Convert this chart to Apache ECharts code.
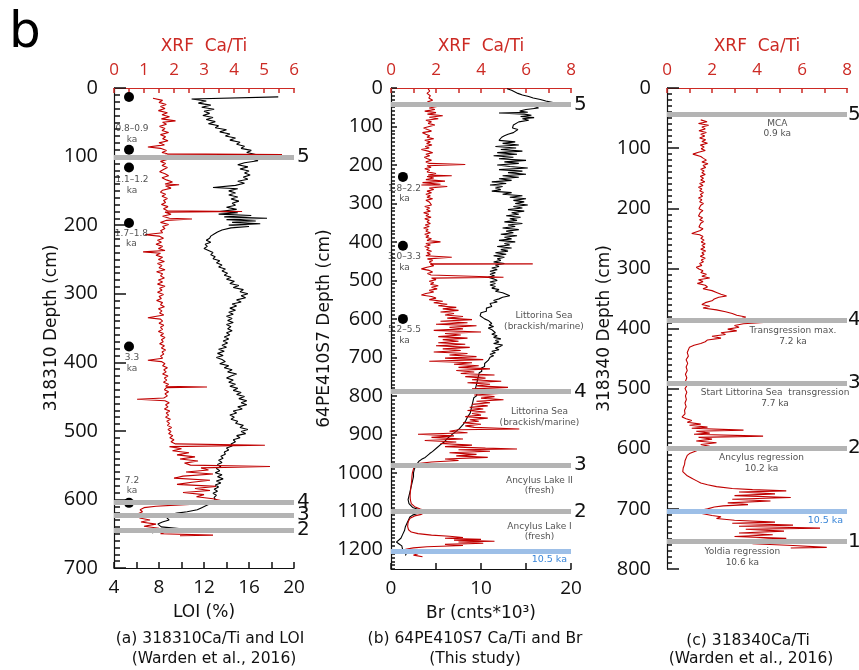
<!DOCTYPE html>
<html>
<head>
<meta charset="utf-8">
<script src="https://cdn.jsdelivr.net/npm/echarts@6/dist/echarts.min.js"></script>
<style>
  html, body { margin: 0; padding: 0; background: #fff; }
  #chart { width: 859px; height: 670px; }
</style>
</head>
<body>
<div id="chart"></div>
<script>
// core 318310: [depth cm, Ca/Ti]
const caTiA = [[15,1.30],[18,1.62],[21,1.50],[24,1.74],[27,1.55],[30,1.70],[33,1.48],[36,1.78],[39,1.60],[42,1.85],[45,1.58],[48,2.05],[50,1.62],[53,1.75],[56,1.52],[59,1.70],[62,1.60],[65,1.82],[68,1.55],[71,1.72],[74,1.62],[77,1.80],[80,1.50],[83,1.68],[86,1.13],[88,1.55],[91,1.75],[94,1.60],[96,1.78],[97,5.60],[98,1.72],[101,1.62],[104,1.80],[107,1.55],[110,1.72],[113,1.60],[116,1.78],[119,1.65],[122,1.52],[125,1.70],[128,1.82],[131,1.60],[134,1.75],[137,1.95],[140,1.70],[141,2.17],[143,1.72],[146,1.90],[149,1.62],[152,1.55],[155,1.72],[158,1.60],[161,1.78],[164,1.65],[167,1.72],[170,1.58],[173,1.80],[176,1.65],[179,1.78],[180,4.27],[181,1.70],[184,1.90],[187,1.62],[190,1.85],[191,2.60],[193,1.75],[196,1.55],[199,1.82],[202,1.62],[205,1.70],[208,1.55],[211,1.62],[214,1.03],[216,1.50],[219,1.65],[222,1.45],[225,1.58],[228,1.40],[231,1.62],[234,1.48],[237,1.70],[239,0.97],[241,1.55],[244,1.40],[247,1.62],[250,1.48],[253,1.68],[256,1.45],[259,1.60],[262,1.50],[265,1.70],[268,1.42],[271,1.62],[274,1.55],[277,1.68],[280,1.48],[283,1.62],[286,1.45],[289,1.70],[292,1.52],[295,1.60],[298,1.45],[301,1.65],[304,1.50],[307,1.58],[310,1.42],[313,1.62],[316,1.55],[319,1.68],[322,1.48],[325,1.60],[328,1.52],[331,1.66],[335,1.13],[337,1.55],[340,1.62],[343,1.50],[346,1.66],[349,1.55],[352,1.62],[355,1.48],[358,1.65],[361,1.55],[364,1.70],[367,1.58],[370,1.64],[373,1.52],[376,1.68],[379,1.58],[382,1.72],[385,1.60],[388,1.66],[391,1.55],[394,1.62],[397,1.13],[399,1.58],[402,1.70],[405,1.62],[408,1.78],[411,1.66],[414,1.74],[417,1.62],[420,1.80],[423,1.68],[426,1.76],[429,1.65],[432,1.82],[435,1.72],[436,3.10],[437,1.75],[440,1.68],[443,1.82],[446,1.70],[449,1.78],[452,1.66],[454,0.77],[456,1.70],[459,1.84],[462,1.72],[465,1.80],[468,1.68],[471,1.86],[474,1.74],[477,1.82],[480,1.72],[483,1.88],[486,1.76],[489,1.85],[492,1.78],[495,1.92],[498,1.80],[501,1.90],[504,1.82],[507,1.96],[510,1.86],[513,2.00],[516,1.90],[519,2.05],[521,5.03],[523,1.85],[526,2.25],[529,1.95],[532,2.50],[535,2.10],[538,2.70],[541,2.20],[544,2.80],[547,2.35],[550,2.55],[552,5.20],[554,2.90],[557,3.15],[560,2.40],[563,3.30],[566,2.30],[569,2.00],[572,3.20],[575,2.60],[578,2.10],[581,3.40],[584,2.70],[587,3.20],[590,2.30],[593,3.00],[596,2.75],[599,3.30],[602,3.60],[604,5.10],[606,3.20],[608,2.20],[610,1.40],[612,1.00],[615,0.87],[618,0.95],[621,0.80],[624,1.05],[627,0.85],[630,1.20],[633,0.90],[636,1.40],[639,1.00],[642,1.50],[645,1.20],[648,1.70],[650,1.55],[652,3.30],[653,2.20]];

// core 318310: [depth cm, LOI %]
const loiA = [[13,18.6],[16,10.9],[19,12.2],[22,11.5],[25,12.6],[28,11.8],[31,12.9],[34,12.0],[37,12.5],[40,11.9],[43,12.8],[46,12.2],[49,13.0],[52,12.4],[55,13.3],[58,13.0],[61,14.0],[64,13.4],[67,14.3],[70,13.9],[73,14.8],[76,14.3],[79,15.2],[82,14.9],[85,15.6],[88,15.3],[91,16.2],[94,15.8],[97,16.6],[99,16.0],[101,17.4],[103,16.2],[106,16.8],[109,15.6],[112,15.0],[115,15.9],[118,15.2],[121,16.0],[124,15.6],[127,16.1],[130,15.5],[133,15.9],[136,15.0],[139,15.6],[142,14.8],[145,12.8],[147,15.0],[150,14.2],[153,14.8],[156,14.2],[159,15.0],[162,14.4],[165,15.1],[168,14.5],[171,14.8],[174,14.0],[177,14.9],[180,13.4],[182,15.0],[184,13.3],[186,16.2],[188,13.8],[190,17.6],[192,14.0],[194,16.6],[196,14.5],[198,17.0],[200,14.2],[202,16.0],[204,14.4],[207,13.6],[210,13.2],[213,12.9],[216,12.6],[219,12.5],[222,12.2],[225,12.6],[228,12.1],[231,12.3],[234,12.0],[237,12.4],[240,12.8],[243,12.6],[246,13.0],[249,12.8],[252,13.4],[255,13.1],[258,13.6],[261,13.3],[264,13.9],[267,13.6],[270,14.1],[273,13.8],[276,14.4],[279,14.0],[282,14.7],[285,14.3],[288,15.1],[291,14.6],[294,15.5],[297,15.2],[300,15.9],[303,15.3],[306,15.7],[309,14.9],[312,15.3],[315,14.5],[318,14.9],[321,14.3],[324,14.8],[327,14.2],[330,14.6],[333,14.0],[336,14.5],[339,14.1],[342,14.6],[345,14.0],[348,14.4],[351,14.1],[354,14.5],[357,14.0],[360,14.3],[363,13.8],[366,14.2],[369,13.7],[372,14.1],[375,13.6],[378,14.0],[381,13.3],[384,13.8],[387,13.2],[390,13.7],[393,13.1],[396,13.6],[399,13.9],[402,13.4],[405,14.2],[408,13.8],[411,14.5],[414,14.1],[417,14.9],[420,14.4],[423,14.0],[426,14.6],[429,14.2],[432,14.8],[435,14.3],[438,15.0],[441,14.6],[444,15.3],[447,14.9],[450,15.6],[453,15.1],[456,15.8],[459,15.3],[462,15.8],[465,15.0],[468,15.4],[471,14.6],[474,14.9],[477,14.3],[480,14.7],[483,14.4],[486,15.0],[489,14.8],[492,15.5],[495,15.2],[498,15.9],[501,15.3],[504,15.7],[507,14.9],[510,15.2],[513,14.6],[516,14.8],[519,14.4],[522,14.5],[525,14.0],[528,14.2],[531,13.8],[534,13.9],[537,13.5],[540,13.7],[543,13.3],[546,13.6],[549,13.2],[552,13.5],[555,13.1],[558,13.4],[561,13.0],[564,13.6],[567,13.2],[570,13.7],[573,13.1],[576,13.5],[579,13.0],[582,13.3],[585,12.9],[588,13.2],[591,12.8],[594,13.1],[597,12.9],[600,13.0],[603,12.8],[606,12.6],[609,12.2],[612,11.8],[615,11.4],[618,10.5],[620,9.6],[622,9.0],[624,8.9],[627,8.7],[630,8.9],[633,8.3],[636,7.9],[640,8.2],[643,10.0],[645,20.0],[647,7.6],[649,7.4]];

// core 64PE410S7: [depth cm, Ca/Ti]
const caTiB = [[2,1.65],[8,1.72],[14,1.60],[20,1.75],[26,1.68],[32,1.85],[36,1.62],[40,1.90],[44,1.55],[48,2.05],[52,1.70],[56,1.95],[60,1.50],[64,2.00],[68,1.62],[72,2.30],[76,1.70],[80,2.10],[84,1.55],[88,1.80],[92,1.65],[96,1.95],[100,1.70],[104,1.45],[108,1.62],[112,1.80],[116,1.40],[120,1.55],[124,1.72],[128,1.60],[132,1.90],[136,1.50],[140,1.75],[144,1.58],[148,1.82],[152,1.52],[156,1.70],[160,1.35],[164,1.65],[168,1.85],[172,1.55],[176,1.72],[180,1.48],[184,1.62],[188,1.80],[192,1.55],[196,1.70],[199,3.30],[202,1.60],[206,1.78],[210,1.50],[214,1.72],[218,1.60],[222,2.00],[226,1.65],[228,2.70],[230,1.60],[234,1.90],[238,1.55],[242,2.40],[246,1.40],[250,2.20],[252,1.35],[256,2.50],[260,1.70],[264,1.90],[268,1.60],[272,1.80],[276,1.55],[280,1.75],[284,1.60],[288,1.85],[292,1.55],[296,1.70],[300,1.62],[304,1.80],[308,1.50],[312,1.72],[316,1.58],[320,1.75],[324,1.45],[328,1.68],[332,1.55],[336,1.78],[340,1.50],[344,1.70],[348,1.60],[352,1.75],[356,1.52],[360,1.70],[364,1.45],[368,1.65],[372,1.55],[376,1.75],[380,1.50],[384,1.68],[388,1.55],[392,1.80],[396,1.60],[400,2.20],[404,1.55],[408,1.75],[412,1.50],[416,1.70],[420,1.58],[424,1.80],[428,1.60],[432,1.75],[436,1.55],[440,2.70],[444,1.62],[448,1.85],[452,1.70],[456,1.80],[457,6.30],[458,1.75],[462,1.90],[466,1.60],[470,1.35],[474,1.70],[478,1.85],[482,1.62],[486,1.78],[490,1.70],[492,5.00],[494,1.80],[498,2.00],[502,1.70],[506,1.90],[510,1.75],[514,2.10],[518,1.80],[522,2.05],[526,1.70],[530,1.90],[534,1.55],[538,1.35],[542,1.80],[546,2.00],[550,1.70],[554,2.30],[558,1.90],[562,2.50],[566,2.10],[570,2.90],[574,2.30],[578,3.00],[582,2.20],[586,2.80],[590,2.40],[594,3.20],[598,2.50],[602,3.60],[606,2.20],[610,3.40],[614,2.00],[618,3.80],[622,2.60],[626,3.20],[630,1.90],[634,4.00],[638,2.40],[642,3.10],[646,2.10],[650,3.40],[654,2.30],[658,3.00],[662,2.10],[666,3.30],[670,2.00],[674,3.50],[678,2.30],[682,3.10],[686,1.90],[690,3.40],[694,2.60],[698,3.80],[702,2.40],[706,4.10],[710,1.70],[714,3.60],[718,2.80],[722,3.90],[726,3.00],[730,4.40],[734,2.90],[738,3.70],[742,3.10],[746,4.60],[750,3.30],[754,4.20],[758,3.60],[762,4.90],[766,3.40],[770,4.40],[774,3.80],[778,5.20],[782,3.60],[786,4.50],[790,3.90],[794,4.80],[798,3.70],[802,4.60],[806,4.00],[810,5.00],[814,3.80],[818,4.40],[822,3.60],[826,4.30],[830,3.50],[834,4.10],[838,3.40],[842,4.20],[846,3.60],[850,4.00],[854,3.30],[858,4.30],[862,3.50],[866,3.90],[870,3.20],[874,4.00],[878,3.30],[882,3.70],[886,5.70],[888,3.00],[892,2.60],[896,3.40],[900,1.20],[904,2.80],[908,1.80],[912,3.20],[916,1.50],[920,2.90],[924,2.20],[928,3.60],[932,2.40],[936,4.20],[938,5.60],[940,3.00],[944,4.40],[948,2.60],[952,3.80],[956,2.90],[960,4.30],[964,2.40],[968,3.00],[972,1.80],[976,1.20],[980,1.05],[990,1.00],[1000,0.95],[1010,0.93],[1020,0.92],[1030,0.90],[1040,0.88],[1050,0.86],[1060,0.85],[1070,0.86],[1080,0.90],[1088,1.05],[1094,1.30],[1100,1.60],[1104,1.65],[1108,1.35],[1112,1.05],[1118,0.85],[1125,0.78],[1132,0.75],[1140,0.74],[1148,0.78],[1154,0.90],[1158,1.20],[1162,1.80],[1165,2.60],[1168,3.20],[1170,2.40],[1173,4.00],[1175,2.80],[1178,4.60],[1180,3.00],[1183,4.10],[1186,2.40],[1189,3.20],[1192,1.60],[1195,1.00],[1198,0.70],[1202,0.45],[1206,0.70],[1210,1.20],[1214,1.00],[1218,1.40]];

// core 64PE410S7: [depth cm, Br cnts*10^3]
const brB = [[2,12.9],[6,13.4],[10,13.2],[14,14.1],[18,14.6],[22,15.3],[26,15.8],[30,16.6],[34,17.2],[38,18.0],[42,16.8],[45,17.3],[48,15.9],[52,16.4],[56,15.0],[60,14.3],[63,15.2],[65,12.0],[68,14.8],[71,15.6],[74,14.4],[77,15.9],[80,14.6],[84,15.3],[88,14.2],[92,14.0],[96,13.6],[100,13.8],[104,13.5],[108,14.1],[112,14.0],[116,13.6],[120,13.0],[124,12.6],[128,12.3],[132,12.5],[136,12.0],[140,13.8],[144,12.4],[148,14.2],[152,11.6],[156,13.9],[160,12.2],[164,14.6],[168,11.8],[172,14.0],[176,11.4],[180,13.6],[184,12.0],[188,15.0],[192,12.6],[196,14.2],[200,11.8],[204,13.2],[208,15.2],[212,12.0],[216,14.6],[220,13.0],[224,15.0],[228,12.4],[232,14.2],[236,12.0],[240,13.4],[244,11.2],[248,12.8],[252,11.0],[256,12.4],[260,11.6],[264,12.2],[268,11.2],[272,13.4],[276,12.4],[280,14.6],[284,13.2],[288,15.0],[292,13.6],[296,14.8],[300,13.8],[304,15.2],[308,13.6],[312,14.6],[316,13.0],[320,14.8],[324,13.4],[328,14.2],[332,12.8],[336,14.4],[340,13.2],[344,14.0],[348,12.6],[352,14.6],[356,13.0],[360,13.8],[364,12.4],[368,14.2],[372,12.8],[376,13.6],[380,12.2],[384,14.0],[388,12.6],[392,13.4],[396,12.0],[400,13.8],[404,12.6],[408,13.2],[412,11.8],[416,13.4],[420,12.2],[424,13.0],[428,11.6],[432,12.8],[436,11.4],[440,12.6],[444,11.8],[448,12.2],[452,11.4],[456,12.6],[460,11.6],[464,12.0],[468,11.2],[472,11.8],[476,11.0],[480,11.6],[484,11.0],[488,11.5],[492,10.8],[496,11.4],[500,11.8],[504,11.0],[508,11.6],[512,11.0],[516,11.6],[520,11.2],[524,12.0],[528,11.6],[532,12.4],[536,12.8],[540,13.2],[544,12.4],[548,12.0],[552,11.4],[556,11.8],[560,11.0],[564,10.8],[568,11.2],[572,10.6],[576,10.4],[580,10.6],[584,10.0],[588,10.2],[592,9.9],[596,10.1],[600,10.4],[604,10.8],[608,10.6],[612,11.2],[616,10.9],[620,11.4],[624,10.8],[628,11.2],[632,11.0],[636,11.6],[640,11.2],[644,11.8],[648,11.4],[652,12.2],[656,11.6],[660,12.0],[664,11.4],[668,12.4],[672,12.1],[676,11.6],[680,12.0],[684,11.2],[688,11.6],[692,11.0],[696,11.4],[700,11.0],[704,11.2],[708,10.8],[712,10.7],[716,10.4],[720,10.2],[724,10.4],[728,10.0],[732,9.9],[736,10.1],[740,9.8],[745,10.0],[750,9.7],[755,9.9],[760,9.6],[765,9.8],[770,9.5],[775,9.7],[780,9.4],[785,9.6],[790,9.6],[795,9.4],[800,9.5],[805,9.2],[810,9.4],[815,9.1],[820,9.2],[825,9.0],[830,9.0],[835,8.9],[840,8.8],[845,8.8],[850,8.6],[855,8.5],[860,8.4],[865,8.3],[870,8.1],[875,8.0],[880,7.9],[885,7.6],[890,7.4],[895,7.1],[900,6.8],[905,6.6],[910,6.3],[915,6.1],[920,5.9],[925,5.6],[930,5.4],[935,5.1],[940,4.9],[945,4.6],[950,4.3],[955,4.1],[960,3.8],[965,3.4],[970,3.1],[975,2.9],[980,2.8],[985,2.7],[990,2.6],[1000,2.5],[1010,2.5],[1020,2.4],[1030,2.3],[1040,2.2],[1050,2.1],[1060,2.0],[1070,1.9],[1080,2.0],[1085,2.1],[1090,2.4],[1095,3.0],[1100,3.4],[1105,3.0],[1110,2.4],[1115,2.1],[1120,2.0],[1130,1.8],[1140,1.6],[1150,1.5],[1160,1.3],[1170,1.1],[1175,0.9],[1180,0.6],[1185,0.9],[1190,1.2],[1195,1.4],[1200,1.3],[1205,1.5],[1210,1.7],[1215,1.6]];

// core 318340: [depth cm, Ca/Ti]
const caTiC = [[53,1.50],[56,1.78],[59,1.40],[62,1.85],[65,1.55],[68,1.70],[71,1.42],[74,1.75],[77,1.50],[80,1.68],[83,1.45],[86,1.72],[89,1.55],[92,1.80],[95,1.48],[98,1.65],[101,1.52],[104,1.70],[107,1.40],[110,1.15],[112,1.10],[114,1.50],[117,1.62],[120,1.75],[123,1.55],[126,1.82],[129,1.60],[132,1.72],[135,1.50],[138,1.65],[141,1.55],[144,1.70],[147,1.48],[150,1.62],[153,1.50],[156,1.68],[159,1.45],[162,1.60],[165,1.40],[168,1.55],[171,1.45],[174,1.62],[177,1.48],[180,1.58],[183,1.40],[186,1.55],[189,1.45],[192,1.62],[195,1.50],[198,1.58],[201,1.42],[204,1.60],[207,1.48],[210,1.56],[213,1.40],[216,1.58],[219,1.45],[222,1.62],[225,1.50],[228,1.58],[231,1.42],[234,1.60],[237,1.48],[240,1.55],[242,1.10],[244,1.45],[247,1.60],[250,1.50],[253,1.65],[256,1.52],[259,1.70],[262,1.55],[265,1.68],[268,1.50],[271,1.72],[274,1.55],[277,1.65],[280,1.48],[283,1.70],[286,1.52],[289,1.62],[292,1.45],[295,1.55],[298,1.30],[301,1.42],[304,1.60],[307,1.50],[310,1.75],[313,1.55],[316,1.90],[319,1.40],[322,1.60],[325,1.35],[328,1.70],[331,1.80],[334,1.60],[337,2.00],[340,2.20],[343,2.40],[346,2.65],[348,2.30],[351,2.10],[354,2.00],[357,1.70],[360,1.55],[363,1.90],[366,1.60],[369,2.20],[372,2.60],[375,2.90],[378,3.10],[381,3.50],[384,3.30],[386,4.10],[388,3.60],[390,4.30],[392,3.40],[395,3.00],[398,3.20],[401,2.70],[404,3.10],[407,2.40],[410,2.60],[413,2.00],[416,2.40],[419,1.80],[422,1.70],[425,1.50],[428,1.20],[431,1.00],[434,0.95],[440,0.90],[446,0.95],[452,0.85],[458,0.92],[464,0.85],[470,0.90],[476,0.82],[482,0.88],[488,0.82],[494,0.90],[500,0.80],[506,0.88],[512,0.82],[518,0.86],[524,0.80],[530,0.85],[536,0.78],[542,0.80],[547,0.67],[550,0.85],[553,1.10],[556,0.90],[559,1.50],[561,1.00],[564,1.80],[566,1.10],[569,3.40],[571,1.30],[574,1.90],[576,1.20],[579,4.27],[581,1.40],[584,2.00],[587,1.30],[590,2.20],[593,1.50],[596,1.90],[599,1.60],[602,1.40],[605,1.20],[608,1.00],[611,0.90],[614,0.85],[620,0.80],[626,0.78],[632,0.72],[638,0.70],[641,0.75],[645,0.90],[649,1.10],[653,1.30],[657,1.50],[660,1.80],[663,2.20],[666,2.90],[668,3.80],[670,5.30],[672,3.20],[675,4.80],[678,3.00],[681,5.50],[684,2.90],[687,4.60],[690,2.70],[693,3.60],[695,2.50],[697,2.10],[700,1.80],[703,1.40],[705,1.30],[708,1.60],[711,2.00],[713,2.40],[716,2.20],[719,3.00],[722,4.80],[724,2.90],[727,5.60],[729,3.20],[732,6.80],[734,3.50],[737,5.20],[740,3.20],[743,4.70],[746,3.00],[749,5.30],[752,3.40],[755,4.40],[758,3.80],[761,5.60],[764,7.10],[765,5.50]];

// horizontal event bands: [depth, label]
const bandsA = [[101,'5'],[604,'4'],[623,'3'],[645,'2']];
const bandsB = [[43,'5'],[789,'4'],[980,'3'],[1101,'2']];
const bandsC = [[44,'5'],[386,'4'],[491,'3'],[599,'2'],[754,'1']];
const blueB = 1203;
const blueC = 704;

// dated levels: [Ca/Ti position, depth]; age labels: [Ca/Ti, depth, text]
const datesA = [[0.5,13],[0.5,90],[0.5,116],[0.5,197],[0.5,377],[0.5,605]];
const agesA = [[0.6,67,'0.8–0.9\nka'],[0.6,142,'1.1–1.2\nka'],[0.58,220,'1.7–1.8\nka'],[0.6,401,'3.3\nka'],[0.6,580,'7.2\nka']];
const datesB = [[0.53,231],[0.53,410],[0.53,600]];
const agesB = [[0.6,275,'1.8–2.2\nka'],[0.6,452,'3.0–3.3\nka'],[0.6,642,'5.2–5.5\nka']];

// environment notes: [Ca/Ti, depth, text]
const notesB = [[6.8,606,'Littorina Sea\n(brackish/marine)'],[6.6,855,'Littorina Sea\n(brackish/marine)'],[6.6,1034,'Ancylus Lake II\n(fresh)'],[6.6,1153,'Ancylus Lake I\n(fresh)']];
const notesC = [[4.9,68,'MCA\n0.9 ka'],[5.6,413,'Transgression max.\n7.2 ka'],[4.8,516,'Start Littorina Sea  transgression\n7.7 ka'],[4.2,624,'Ancylus regression\n10.2 ka'],[3.35,780,'Yoldia regression\n10.6 ka']];

const RED = '#c00000';
const RED_AXIS = '#cc2a24';
const GRAY = '#b4b4b4';
const BLUE = '#9dbfe7';
const BLUE_TXT = '#3a86d8';
const INK = '#111';
const FONT = 'DejaVu Sans';
const NUM = 'Open Sans';

const chart = echarts.init(document.getElementById('chart'));

function flip(pairs) {
  return pairs.map(p => [p[1], p[0]]);
}

// labels only on multiples of `step`, ticks on every interval
function every(step) {
  return v => (Math.abs(v / step - Math.round(v / step)) < 1e-6 ? String(v) : '');
}

function topAxis(grid, max, tickStep, labelStep) {
  return {
    gridIndex: grid, type: 'value', position: 'top', min: 0, max: max, interval: tickStep,
    name: 'XRF  Ca/Ti', nameLocation: 'middle', nameGap: 33,
    nameTextStyle: { color: RED_AXIS, fontSize: 17, fontFamily: FONT },
    axisLine: { show: true, onZero: false, lineStyle: { color: RED_AXIS, width: 1.2 } },
    axisTick: { show: true, inside: true, length: 5, lineStyle: { color: RED_AXIS, width: 1.5 } },
    axisLabel: { color: RED_AXIS, fontSize: 17, fontFamily: NUM, margin: 9, formatter: every(labelStep) },
    splitLine: { show: false }
  };
}

function bottomAxis(grid, min, max, tickStep, labelStep, name) {
  return {
    gridIndex: grid, type: 'value', position: 'bottom', min: min, max: max, interval: tickStep,
    name: name, nameLocation: 'middle', nameGap: 36,
    nameTextStyle: { color: INK, fontSize: 17, fontFamily: FONT },
    axisLine: { show: true, onZero: false, lineStyle: { color: INK, width: 1.2 } },
    axisTick: { show: true, inside: true, length: 6, lineStyle: { color: INK, width: 1.5 } },
    axisLabel: { color: INK, fontSize: 19, fontFamily: NUM, margin: 10, formatter: every(labelStep) },
    splitLine: { show: false }
  };
}

function depthAxis(grid, max, name, gap, tickLen, margin) {
  return {
    gridIndex: grid, type: 'value', inverse: true, min: 0, max: max, interval: 100, position: 'left',
    name: name, nameLocation: 'middle', nameGap: gap,
    nameTextStyle: { color: INK, fontSize: 17, fontFamily: FONT },
    axisLine: { show: true, onZero: false, lineStyle: { color: INK, width: 1.2 } },
    axisTick: { show: true, inside: true, length: tickLen, lineStyle: { color: INK, width: 1.5 } },
    axisLabel: {
      color: INK, fontSize: 20, fontFamily: NUM, margin: margin,
      showMaxLabel: max % 100 === 0,
      formatter: every(100)
    },
    splitLine: { show: false }
  };
}

// same-side companion axis carrying only the 10 cm ticks
function fineDepthAxis(grid, max, len) {
  return {
    gridIndex: grid, type: 'value', inverse: true, min: 0, max: max, interval: 10, position: 'left',
    axisLine: { show: false, onZero: false },
    axisTick: { show: true, inside: true, length: len, lineStyle: { color: INK, width: 1.5 } },
    axisLabel: { show: false },
    splitLine: { show: false }
  };
}

function bandSeries(xi, yi, bands, blue, labelGap) {
  const data = bands.map(b => ({ name: b[1], yAxis: b[0] }));
  if (blue != null) {
    data.push({
      name: '10.5 ka', yAxis: blue,
      lineStyle: { color: BLUE },
      label: { position: 'insideEndBottom', color: BLUE_TXT, fontSize: 9.5, distance: 4 }
    });
  }
  return {
    type: 'line', xAxisIndex: xi, yAxisIndex: yi, data: [], z: 1,
    markLine: {
      symbol: 'none', animation: false,
      lineStyle: { color: GRAY, width: 5, type: 'solid', opacity: 1 },
      label: { show: true, position: 'end', formatter: '{b}', color: INK, fontSize: 20, fontFamily: FONT, distance: labelGap },
      data: data
    }
  };
}

function curve(xi, yi, pairs, color) {
  return {
    type: 'line', xAxisIndex: xi, yAxisIndex: yi, data: flip(pairs),
    showSymbol: false, symbol: 'none', z: 3,
    lineStyle: { color: color, width: 1.1 }
  };
}

function dots(xi, yi, pts) {
  return {
    type: 'scatter', xAxisIndex: xi, yAxisIndex: yi, data: pts, z: 4,
    symbolSize: 10, itemStyle: { color: '#000', opacity: 1 }
  };
}

function notes(xi, yi, items, size) {
  return {
    type: 'scatter', xAxisIndex: xi, yAxisIndex: yi, z: 5, symbolSize: 0,
    data: items.map(n => ({ name: n[2], value: [n[0], n[1]] })),
    label: {
      show: true, position: 'inside', formatter: '{b}', color: '#262626',
      fontSize: size, fontFamily: FONT, lineHeight: size + 1.5, align: 'center'
    }
  };
}

const capStyle = { fontSize: 15.5, fontFamily: FONT, fill: INK, align: 'center', verticalAlign: 'middle' };
function caption(x, y, text) {
  return { type: 'text', x: x, y: y, style: Object.assign({ text: text }, capStyle) };
}

chart.setOption({
  animation: false,
  grid: [
    { left: 114, top: 88, width: 180, height: 480 },
    { left: 391, top: 88, width: 180, height: 481 },
    { left: 667, top: 88, width: 180, height: 481 }
  ],
  xAxis: [
    topAxis(0, 6, 0.5, 1),
    bottomAxis(0, 4, 20, 2, 4, 'LOI (%)'),
    topAxis(1, 8, 1, 2),
    bottomAxis(1, 0, 20, 5, 10, 'Br (cnts*10³)'),
    topAxis(2, 8, 1, 2)
  ],
  yAxis: [
    depthAxis(0, 700, '318310 Depth (cm)', 51, 12, 16),
    fineDepthAxis(0, 700, 6),
    depthAxis(1, 1250, '64PE410S7 Depth (cm)', 57, 6, 8),
    fineDepthAxis(1, 1250, 4),
    depthAxis(2, 800, '318340 Depth (cm)', 50, 12, 16),
    fineDepthAxis(2, 800, 5)
  ],
  series: [
    bandSeries(0, 0, bandsA, null, 3),
    curve(1, 0, loiA, '#000'),
    curve(0, 0, caTiA, RED),
    dots(0, 0, datesA),
    notes(0, 0, agesA, 9),

    bandSeries(2, 2, bandsB, blueB, 3),
    curve(3, 2, brB, '#000'),
    curve(2, 2, caTiB, RED),
    dots(2, 2, datesB),
    notes(2, 2, agesB, 9),
    notes(2, 2, notesB, 9),

    bandSeries(4, 4, bandsC, blueC, 1),
    curve(4, 4, caTiC, RED),
    notes(4, 4, notesC, 9)
  ],
  graphic: [
    { type: 'text', x: 9, y: 9, style: { text: 'b', fontSize: 50, fontFamily: FONT, fill: '#000' } },
    caption(210, 639, '(a) 318310Ca/Ti and LOI'),
    caption(214, 659, '(Warden et al., 2016)'),
    caption(475, 639, '(b) 64PE410S7 Ca/Ti and Br'),
    caption(475, 659, '(This study)'),
    caption(748, 641, '(c) 318340Ca/Ti'),
    caption(751, 659, '(Warden et al., 2016)')
  ]
});
</script>
</body>
</html>
